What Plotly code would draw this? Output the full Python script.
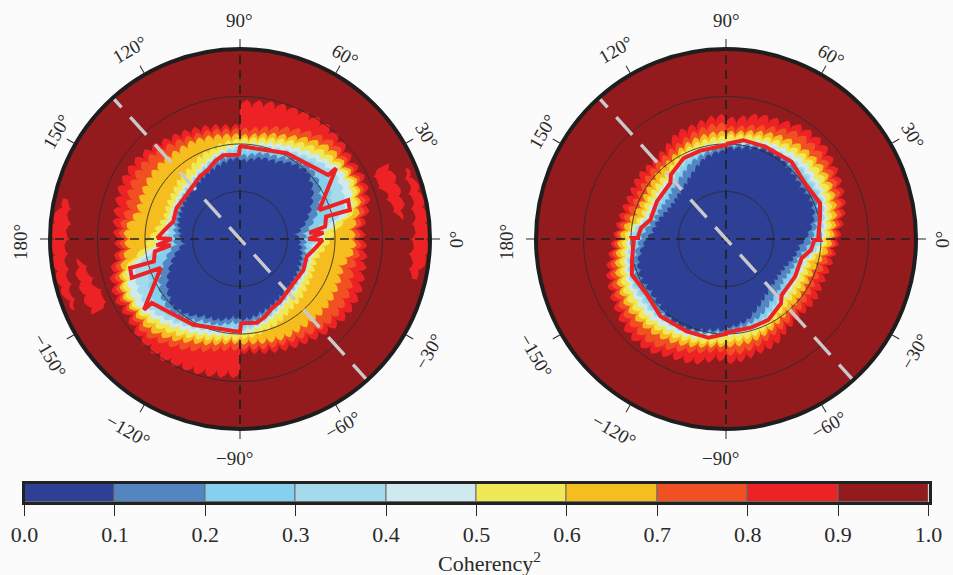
import numpy as np
import plotly.graph_objects as go

# ---------- data, radial values are in axis units (outer circle = 570, rings every 142.5) ----------
sector_angles = [-85, -75, -65, -55, -45, -35, -25, -15, -5, 5, 15, 25, 35, 45, 55, 65, 75, 85]
level_edges = [0.1, 0.2, 0.3, 0.4, 0.5, 0.6, 0.7, 0.8, 0.9]

# Each list: radius where coherency^2 reaches a level, one value per azimuth sector
left_r01 = [240, 230, 220, 210, 205, 200, 195, 190, 180, 170, 205, 235, 265, 285, 275, 255, 250, 235]
left_r02 = [252, 242, 230, 218, 212, 208, 205, 200, 195, 195, 230, 265, 290, 300, 290, 270, 265, 250]
left_r03 = [262, 250, 238, 224, 218, 212, 210, 206, 210, 215, 270, 300, 320, 315, 300, 285, 275, 265]
left_r04 = [272, 258, 242, 228, 222, 216, 215, 212, 220, 235, 320, 340, 345, 330, 310, 295, 285, 275]
left_r05 = [280, 265, 250, 235, 230, 225, 222, 220, 235, 255, 345, 365, 365, 345, 325, 310, 295, 285]
left_r06 = [295, 285, 275, 260, 255, 245, 240, 235, 258, 285, 360, 380, 375, 365, 345, 325, 310, 300]
left_r07 = [312, 318, 325, 325, 330, 330, 325, 318, 345, 340, 370, 390, 385, 385, 365, 340, 325, 310]
left_r08 = [328, 335, 340, 350, 365, 370, 365, 350, 360, 355, 385, 400, 395, 405, 385, 365, 345, 330]
left_r09 = [340, 350, 360, 370, 385, 395, 395, 385, 378, 368, 400, 415, 410, 425, 430, 425, 420, 412]

right_r01 = [262, 250, 225, 205, 195, 190, 195, 210, 222, 250, 272, 280, 275, 280, 290, 292, 282, 272]
right_r02 = [272, 262, 250, 230, 220, 210, 215, 222, 245, 265, 285, 295, 290, 295, 296, 297, 290, 280]
right_r03 = [278, 270, 262, 245, 232, 225, 228, 232, 265, 278, 295, 305, 300, 305, 300, 302, 293, 285]
right_r04 = [282, 276, 270, 255, 240, 232, 235, 240, 278, 288, 303, 312, 310, 312, 306, 305, 296, 288]
right_r05 = [288, 284, 280, 262, 250, 245, 245, 250, 285, 298, 312, 322, 325, 328, 322, 315, 305, 292]
right_r06 = [305, 300, 292, 275, 265, 262, 262, 262, 295, 312, 325, 340, 345, 345, 338, 328, 320, 310]
right_r07 = [320, 315, 305, 290, 285, 280, 275, 285, 310, 325, 340, 352, 360, 360, 355, 345, 332, 320]
right_r08 = [345, 335, 320, 310, 305, 300, 295, 305, 320, 335, 355, 368, 378, 385, 385, 365, 350, 335]
right_r09 = [370, 355, 350, 325, 320, 325, 318, 322, 330, 345, 368, 382, 395, 410, 408, 390, 385, 362]

# Isolated 0.8-0.9 patches on the left panel
patch_a_angles = [7, 12, 17, 22, 27]
patch_a_inner = [490, 470, 465, 447, 460]
patch_a_outer = [495, 505, 505, 505, 500]
patch_b_angles = [-13, -5, 5, 15, 23]
patch_b_inner = [530, 520, 530, 535, 540]
patch_b_outer = [545, 570, 570, 565, 548]

# Significance contour (half turn, the other half is its 180 degree rotation)
left_line_theta = [90, 61.4, 35.9, 36.4, 20.1, 19.8, 14.8, 14.6, 8.3, 5.2, 4.3, 0, -0.7, -7.1, -14.8, -26, -39.7, -57.4, -65.4, -72.2, -78.7, -89.3]
left_line_r = [279, 293, 327, 358, 253, 345, 341, 267, 258, 209, 251, 205, 248, 227, 207, 212, 208, 223, 229, 245, 256, 253]
right_line_theta = [90, 80, 67, 49.7, 35.2, 20.8, 13.4, 1.4, -0.6, -0.6, -7.4, -14.3, -28.6, -45.2, -49.5, -62.4, -73.8, -90]
right_line_r = [285, 301, 301, 304, 290, 302, 290, 277, 282, 265, 257, 234, 236, 237, 254, 274, 276, 281]

ring_radii = [142.5, 285, 427.5]
tick_labels = ["90°", "60°", "30°", "0°", "−30°", "−60°", "−90°", "−120°", "−150°", "180°", "150°", "120°"]
tick_rotation = [0, 30, 60, -90, -60, -30, 0, 30, 60, -90, -60, -30]
tick_dx = [0, 105, 187, 216, 188, 102, -6, -112, -190, -219, -183, -110]
tick_dy = [-219, -184, -104, 1, 113, 186, 219, 191, 116, 3, -107, -189]

colorbar_edges = [0.0, 0.1, 0.2, 0.3, 0.4, 0.5, 0.6, 0.7, 0.8, 0.9, 1.0]
colorbar_colors = ["#2e3f96", "#5386c1", "#85d0ef", "#a3dbec", "#cfe9ef",
                   "#efe958", "#f6bd1f", "#f05022", "#ec2224", "#931a1d"]

# ---------- style ----------
W, H = 953, 575
R_PX = 190
CY = 239
CENTERS = [240, 726]
BG = "#fbfbfb"
INK = "#2a2a2a"
FONT = "Liberation Serif"
CELL = 5.0
TIP = 0.4
DEPTHS = [14, 14, 14, 15, 16, 18, 20, 22, 24]


def scallop(phi, depth):
    t = (phi / CELL) % 1.0
    s = np.where(t < TIP, t / TIP, (1 - t) / (1 - TIP))
    return depth * (1 - s ** 0.45)


def outline(angles, radii, depth, lo, hi):
    phi = np.arange(lo, hi + 0.01, 0.25)
    return phi, np.interp(phi, angles, radii) + 6 - scallop(phi, depth)


def add_level(fig, sp, radii, color, depth):
    phi, r = outline(sector_angles, radii, depth, -90, 90)
    theta = np.concatenate([phi, phi + 180])
    rad = np.concatenate([r, r])
    fig.add_trace(go.Scatterpolar(theta=theta, r=rad, mode="lines", fill="toself",
                                  fillcolor=color, line=dict(width=0, color=color),
                                  hoverinfo="skip", showlegend=False, subplot=sp))


def add_patch(fig, sp, angles, inner, outer, color):
    for turn in (0, 180):
        a = np.array(angles, float)
        phi = np.arange(a.min(), a.max() + 0.01, 0.25)
        top = np.interp(phi, angles, outer) - scallop(phi, 14)
        bot = np.interp(phi, angles, inner) - scallop(phi, 14)
        theta = np.concatenate([phi, phi[::-1]]) + turn
        rad = np.concatenate([top, bot[::-1]])
        fig.add_trace(go.Scatterpolar(theta=theta, r=rad, mode="lines", fill="toself",
                                      fillcolor=color, line=dict(width=0, color=color),
                                      hoverinfo="skip", showlegend=False, subplot=sp))


def add_overlays(fig, sp, line_theta, line_r):
    circle = np.arange(0, 360.5, 1.0)
    for ring in ring_radii:
        fig.add_trace(go.Scatterpolar(theta=circle, r=[ring] * len(circle), mode="lines",
                                      line=dict(color="#2c2c2c", width=0.9),
                                      hoverinfo="skip", showlegend=False, subplot=sp))
    for a in (0, 90):
        fig.add_trace(go.Scatterpolar(theta=[a + 180, a + 180, a, a], r=[600, 0, 0, 600], mode="lines",
                                      line=dict(color="#222222", width=1.7, dash="9px,6px"),
                                      cliponaxis=False, hoverinfo="skip", showlegend=False, subplot=sp))
    fig.add_trace(go.Scatterpolar(theta=[132, 132, -48, -48], r=[603, 0, 0, 570], mode="lines",
                                  line=dict(color="#c9c9c9", width=3.4, dash="24px,13px"),
                                  hoverinfo="skip", showlegend=False, subplot=sp))
    th = list(line_theta) + [t + 180 for t in line_theta] + [line_theta[0] + 360]
    rr = list(line_r) + list(line_r) + [line_r[0]]
    fig.add_trace(go.Scatterpolar(theta=th, r=rr, mode="lines",
                                  line=dict(color="#ec2224", width=4),
                                  hoverinfo="skip", showlegend=False, subplot=sp))


fig = go.Figure()

left_levels = [left_r09, left_r08, left_r07, left_r06, left_r05, left_r04, left_r03, left_r02, left_r01]
right_levels = [right_r09, right_r08, right_r07, right_r06, right_r05, right_r04, right_r03, right_r02, right_r01]
fills = colorbar_colors[8::-1]
depths = DEPTHS[::-1]

add_patch(fig, "polar", patch_a_angles, patch_a_inner, patch_a_outer, colorbar_colors[8])
add_patch(fig, "polar", patch_b_angles, patch_b_inner, patch_b_outer, colorbar_colors[8])
for radii, color, d in zip(left_levels, fills, depths):
    add_level(fig, "polar", radii, color, d)
add_overlays(fig, "polar", left_line_theta, left_line_r)

for radii, color, d in zip(right_levels, fills, depths):
    add_level(fig, "polar2", radii, color, d)
add_overlays(fig, "polar2", right_line_theta, right_line_r)

# colour bar
fig.add_trace(go.Bar(y=[0] * 10, x=np.diff(colorbar_edges), base=colorbar_edges[:-1], orientation="h",
                     width=1, marker=dict(color=colorbar_colors, line=dict(color="#6b6b6b", width=1)),
                     hoverinfo="skip", showlegend=False, xaxis="x", yaxis="y"))


def polar_layout(cx):
    return dict(
        domain=dict(x=[(cx - R_PX) / W, (cx + R_PX) / W],
                    y=[1 - (CY + R_PX) / H, 1 - (CY - R_PX) / H]),
        bgcolor=colorbar_colors[9],
        radialaxis=dict(range=[0, 570], visible=False, showgrid=False),
        angularaxis=dict(direction="counterclockwise", rotation=0, dtick=30, showgrid=False,
                         showticklabels=False, ticks="outside", ticklen=8, tickwidth=1.4,
                         tickcolor=INK, linecolor="#1e1e1e", linewidth=4, showline=True),
    )


annotations = []
for cx in CENTERS:
    for label, rot, dx, dy in zip(tick_labels, tick_rotation, tick_dx, tick_dy):
        annotations.append(dict(text=label, x=(cx + dx) / W, y=1 - (CY + dy) / H, xref="paper", yref="paper",
                                xanchor="center", yanchor="middle", showarrow=False, textangle=rot,
                                font=dict(family=FONT, size=19, color=INK)))
annotations.append(dict(text="Coherency<sup>2</sup>", x=489 / W, y=1 - 562 / H, xref="paper", yref="paper",
                        xanchor="center", yanchor="middle", showarrow=False,
                        font=dict(family=FONT, size=22, color=INK)))

fig.update_layout(
    template="none",
    width=W, height=H, autosize=False,
    margin=dict(l=0, r=0, t=0, b=0, pad=0),
    paper_bgcolor=BG, plot_bgcolor=BG,
    showlegend=False,
    polar=polar_layout(CENTERS[0]),
    polar2=polar_layout(CENTERS[1]),
    xaxis=dict(domain=[24.5 / W, 928.5 / W], range=[0, 1], tickvals=colorbar_edges, tickformat=".1f",
               ticks="outside", ticklen=11, tickwidth=1.4, tickcolor=INK, showline=True, mirror=True,
               linecolor="#222222", linewidth=3, showgrid=False, zeroline=False, automargin=False,
               tickfont=dict(family=FONT, size=22, color=INK)),
    yaxis=dict(domain=[1 - 502 / H, 1 - 484 / H], range=[-0.5, 0.5], showticklabels=False, ticks="",
               showline=True, mirror=True, linecolor="#222222", linewidth=3, showgrid=False, zeroline=False,
               automargin=False),
    bargap=0,
    annotations=annotations,
)

fig.write_html("out.html", config={"displayModeBar": False},
               post_script="document.body.style.margin='0';document.body.style.overflow='hidden';")
